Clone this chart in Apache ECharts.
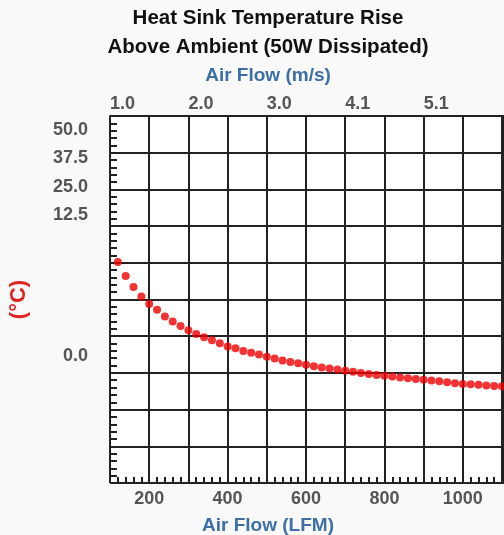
<!DOCTYPE html>
<html><head><meta charset="utf-8">
<script src="https://cdn.jsdelivr.net/npm/echarts@6/dist/echarts.min.js"></script>
<style>html,body{margin:0;padding:0;background:#f9f9f9}#c{width:504px;height:535px}</style>
</head><body><div id="c"></div>
<script>
const airflowLFM = [120,140,160,180,200,220,240,260,280,300,320,340,360,380,400,420,440,460,480,500,
  520,540,560,580,600,620,640,660,680,700,720,740,760,780,800,820,840,860,880,900,
  920,940,960,980,1000,1020,1040,1060,1080,1100];
const tempRise = [30.1,28.2,26.7,25.4,24.4,23.6,22.7,22.0,21.4,20.8,20.3,19.85,19.45,19.05,18.6,18.35,18.0,17.75,17.5,17.2,
  16.95,16.7,16.5,16.3,16.1,15.9,15.75,15.6,15.45,15.3,15.15,15.0,14.85,14.72,14.6,14.5,14.38,14.28,14.18,14.08,
  13.95,13.85,13.72,13.6,13.5,13.45,13.38,13.3,13.22,13.18];
const bottomTickValues = [200,400,600,800,1000];
const topTickValues = [100,300,500,700,900];
const topTickLabels = ['1.0','2.0','3.0','4.1','5.1'];
const leftTickLabels = ['50.0','37.5','25.0','12.5','','','','','0.0','','','',''];

const font = 'Liberation Sans, Arial, sans-serif';
const tickText = {fontSize:18, fontWeight:'bold', color:'#555', fontFamily:font};
const gridLine = {color:'#222', width:2};
const chart = echarts.init(document.getElementById('c'));
chart.setOption({
  backgroundColor:'#f9f9f9',
  animation:false,
  title:[
    {text:'Heat Sink Temperature Rise\nAbove Ambient (50W Dissipated)', left:268, top:4, textAlign:'center', padding:0,
     textStyle:{fontSize:20.5, fontWeight:'bold', color:'#111', lineHeight:29, fontFamily:font}},
    {text:'Air Flow (m/s)', left:268, top:66, textAlign:'center', padding:0,
     textStyle:{fontSize:19, fontWeight:'bold', color:'#3d6fa6', fontFamily:font}},
    {text:'Air Flow (LFM)', left:268, top:516, textAlign:'center', padding:0,
     textStyle:{fontSize:19, fontWeight:'bold', color:'#3d6fa6', fontFamily:font}}
  ],
  grid:{left:110, top:116, right:0, bottom:52, show:true, backgroundColor:'#ffffff', borderWidth:0},
  xAxis:[
    {type:'value', position:'bottom', min:100, max:1105, interval:100,
     axisLine:{show:false},
     axisTick:{show:true, inside:true, length:6, lineStyle:gridLine},
     minorTick:{show:true, splitNumber:5, length:6, lineStyle:{color:'#222', width:2}},
     splitLine:{show:true, lineStyle:gridLine},
     axisLabel:Object.assign({customValues:bottomTickValues, margin:7, formatter:v=>String(v)}, tickText)},
    {type:'value', position:'top', min:100, max:1105, interval:100,
     axisLine:{show:true, lineStyle:gridLine},
     axisTick:{show:false}, splitLine:{show:false},
     axisLabel:Object.assign({customValues:topTickValues, align:'left', margin:3,
       formatter:v=>topTickLabels[topTickValues.indexOf(v)]}, tickText)}
  ],
  yAxis:[
    {type:'value', min:0, max:50, interval:5,
     axisLine:{show:false},
     axisTick:{show:true, inside:true, length:7, lineStyle:gridLine},
     minorTick:{show:true, splitNumber:5, length:7, lineStyle:{color:'#222', width:2}},
     splitLine:{show:true, lineStyle:gridLine},
     axisLabel:{show:false},
     name:'(°C)', nameLocation:'middle', nameRotate:90, nameGap:80,
     nameTextStyle:{fontSize:22, fontWeight:'bold', color:'#e02424', fontFamily:font}},
    {type:'category', position:'left', inverse:true, data:leftTickLabels,
     axisLine:{show:false}, axisTick:{show:false}, splitLine:{show:false},
     axisLabel:Object.assign({interval:0, margin:22}, tickText)}
  ],
  series:[{type:'scatter', xAxisIndex:0, yAxisIndex:0, symbolSize:8,
    itemStyle:{color:'#f00000'},
    data:airflowLFM.map((x,i)=>[x,tempRise[i]])}]
});
</script></body></html>
